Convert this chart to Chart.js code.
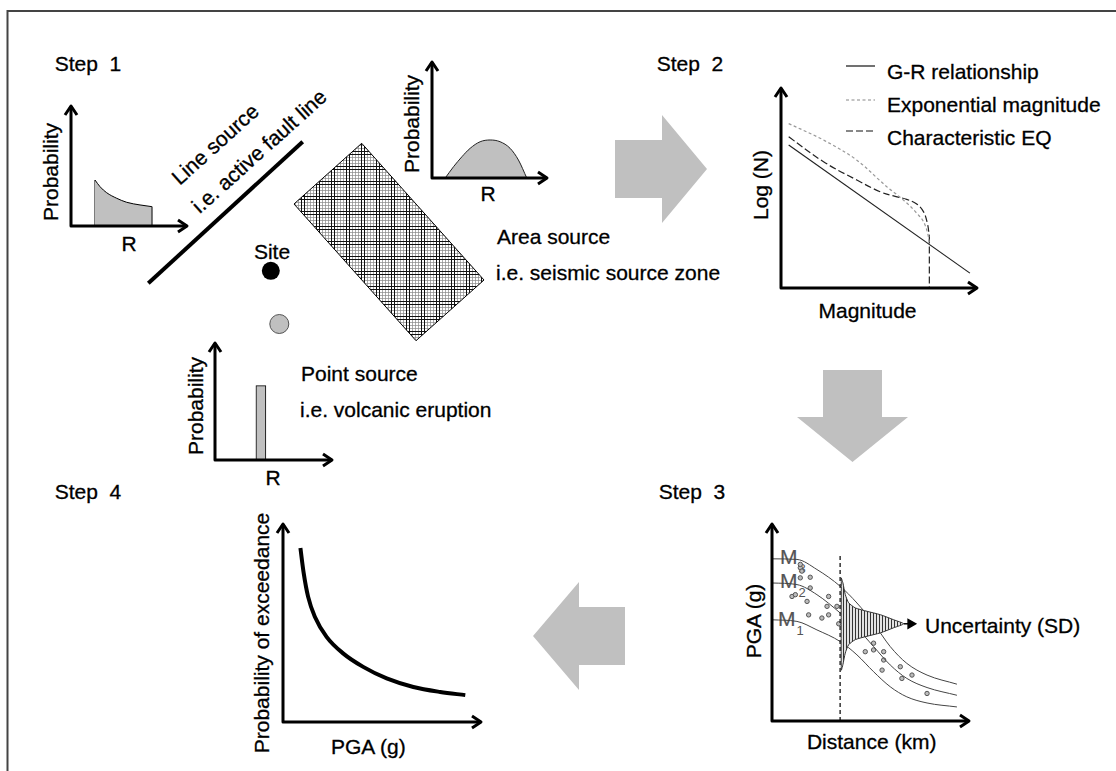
<!DOCTYPE html>
<html>
<head>
<meta charset="utf-8">
<script src="https://cdn.jsdelivr.net/npm/chart.js@4.4.0/dist/chart.umd.min.js"></script>
<style>
html,body{margin:0;padding:0;background:#fff;}
#page{position:relative;width:1116px;height:771px;overflow:hidden;background:#fff;}
#deco{position:absolute;left:0;top:0;}
.box{position:absolute;}
.t{position:absolute;font-family:'Liberation Sans',Arial,sans-serif;font-size:21px;line-height:1;white-space:pre;color:#000;-webkit-text-stroke:0.3px #000;}
.t sub{font-size:13px;vertical-align:0;position:relative;top:9px;left:1px;-webkit-text-stroke:0;}
</style>
</head>
<body>
<div id="page">
<svg id="deco" width="1116" height="771">
  <defs>
    <pattern id="grid" width="15" height="15" patternUnits="userSpaceOnUse">
      <rect width="15" height="15" fill="#fff"/>
      <path d="M0 7.5H15M0 10.5H15M0 13.5H15M7.5 0V15M10.5 0V15M13.5 0V15" stroke="#888" stroke-width="0.7"/>
      <path d="M0 1.5H15M0 4.5H15M1.5 0V15M4.5 0V15" stroke="#111" stroke-width="1"/>
    </pattern>
  </defs>
  <path d="M7.5 771V11H1116" fill="none" stroke="#444" stroke-width="2"/>
  <!-- flow arrows -->
  <polygon points="615,140 662,140 662,115 707,169 662,223 662,198 615,198" fill="#c0c0c0"/>
  <polygon points="823,370 882,370 882,417 908,417 852.5,462 797,417 823,417" fill="#c0c0c0"/>
  <polygon points="625,607 579,607 579,582 533,636 579,690 579,665 625,665" fill="#c0c0c0"/>
  <!-- sources -->
  <line x1="148.3" y1="283.3" x2="302.7" y2="141.7" stroke="#000" stroke-width="4"/>
  <polygon points="361.7,143.3 484,280 416,340.7 294,204" fill="url(#grid)" stroke="#000" stroke-width="1"/>
  <circle cx="270.8" cy="270.8" r="9" fill="#000"/>
  <circle cx="279.3" cy="324" r="9.5" fill="#c0c0c0" stroke="#555" stroke-width="1"/>
  <!-- legend samples -->
  <line x1="846" y1="66" x2="875" y2="66" stroke="#111" stroke-width="1.2"/>
  <line x1="846" y1="100" x2="875" y2="100" stroke="#888" stroke-width="1.2" stroke-dasharray="3 2.5"/>
  <line x1="846" y1="131" x2="875" y2="131" stroke="#111" stroke-width="1.2" stroke-dasharray="7 3"/>
</svg>
</div>
<script>
// ---- data (axis units 0..10 on every small plot) ----
// Step 1, line source: distance pdf
const lineR = [2.05, 2.48, 3.05, 3.91, 4.76, 5.90, 6.90];
const lineP = [3.80, 3.25, 2.75, 2.29, 1.96, 1.74, 1.60];
// Step 1, area source: distance pdf
const areaR = [1.14, 1.86, 2.58, 3.29, 4.15, 5.01, 5.87, 6.73, 7.45, 8.17];
const areaP = [0, 0.97, 1.82, 2.54, 3.10, 3.25, 3.10, 2.54, 1.54, 0];
// Step 1, point source: single distance
const pointR = [3.89];
const pointP = [6.3];

// Step 2, recurrence
const grMag = [0.39, 9.59];
const grLogN = [7.11, 0.74];
const expMag = [0.39, 2.16, 3.85, 5.37, 6.21, 6.89, 7.31, 7.48, 7.53];
const expLogN = [8.18, 7.36, 6.36, 5.04, 4.38, 3.72, 3.14, 2.56, 2.23];
const charMag = [0.39, 2.16, 3.85, 5.03, 5.71, 6.38, 6.89, 7.23, 7.43, 7.53];
const charLogN = [7.52, 6.28, 5.37, 4.79, 4.58, 4.41, 4.18, 3.80, 3.22, 2.56];

// Step 3, attenuation
const distKm = [0, 1.26, 2.27, 3.45, 4.29, 5.13, 5.97, 6.81, 7.83, 9.34];
const pgaM3 = [8.19, 8.16, 7.65, 6.80, 5.96, 4.94, 3.76, 2.91, 2.32, 1.86];
const pgaM2 = [6.97, 6.89, 6.38, 5.45, 4.69, 3.76, 2.83, 2.15, 1.69, 1.30];
const pgaM1 = [5.11, 5.03, 4.60, 4.01, 3.34, 2.49, 1.73, 1.22, 0.91, 0.71];
const obsDist = [1.43, 1.43, 1.93, 1.01, 1.18, 1.77, 1.93, 2.86, 2.78, 1.85, 2.86, 2.52, 3.28, 3.37, 4.21, 4.21, 4.71, 5.13, 5.64, 5.13, 5.64, 5.56, 6.48, 6.56, 7.07, 7.83, 1.43, 1.51];
const obsPga = [7.74, 7.23, 7.26, 6.29, 6.38, 6.04, 6.72, 6.29, 5.79, 5.36, 5.36, 5.20, 5.79, 4.91, 4.94, 4.43, 3.50, 3.59, 3.50, 3.93, 3.08, 2.57, 2.74, 2.15, 2.32, 1.39, 7.91, 7.57];
const siteDist = 3.44;
const siteTop = 8.33;
const sdX = [3.5, 3.58, 3.70, 3.87, 4.21, 4.80, 5.47, 6.15, 6.65, 6.15, 5.47, 4.80, 4.21, 3.87, 3.70, 3.58, 3.5, 3.5];
const sdY = [7.23, 6.98, 6.39, 5.97, 5.71, 5.54, 5.37, 5.11, 4.91, 4.71, 4.45, 4.28, 4.11, 3.85, 3.43, 2.84, 2.57, 7.23];
const sdArrowEnd = 7.0;

// Step 4, hazard curve
const hazPga = [0.875, 1.04, 1.26, 1.60, 2.19, 3.02, 4.03, 5.21, 6.55, 7.90, 9.16];
const hazProb = [8.74, 7.48, 6.30, 5.29, 4.28, 3.45, 2.77, 2.19, 1.76, 1.51, 1.35];

// ---- layout ----
const P = 10;
const boxes = {
  lineSrc:  {ox: 71,  oy: 226, tx: 188, ty: 105},
  areaSrc:  {ox: 432, oy: 178, tx: 548, ty: 61},
  pointSrc: {ox: 215, oy: 460, tx: 333, ty: 342},
  gr:       {ox: 781, oy: 288, tx: 978, ty: 87},
  gmpe:     {ox: 772, oy: 721, tx: 970, ty: 523},
  hazard:   {ox: 283, oy: 722, tx: 482, ty: 523}
};

const labels = [
  {t: 'Step  1', x: 88, y: 63},
  {t: 'Step  2', x: 690, y: 63},
  {t: 'Step  3', x: 692, y: 491},
  {t: 'Step  4', x: 88, y: 491},
  {t: 'Probability', x: 50, y: 172, rot: -90},
  {t: 'R', x: 129, y: 242.5},
  {t: 'Line source', x: 215, y: 144, rot: -42},
  {t: 'i.e. active fault line', x: 259, y: 151, rot: -42},
  {t: 'Site', x: 272, y: 251},
  {t: 'Probability', x: 410.5, y: 124, rot: -90},
  {t: 'R', x: 488, y: 193},
  {t: 'Area source', x: 497, y: 236, left: true},
  {t: 'i.e. seismic source zone', x: 496, y: 272, left: true},
  {t: 'Probability', x: 194.5, y: 406, rot: -90},
  {t: 'R', x: 273, y: 477},
  {t: 'Point source', x: 301, y: 372.5, left: true},
  {t: 'i.e. volcanic eruption', x: 300, y: 408.5, left: true},
  {t: 'G-R relationship', x: 887, y: 71, left: true},
  {t: 'Exponential magnitude', x: 887, y: 104, left: true},
  {t: 'Characteristic EQ', x: 887, y: 137, left: true},
  {t: 'Log (N)', x: 759.5, y: 185, rot: -90},
  {t: 'Magnitude', x: 867.5, y: 310},
  {t: 'PGA (g)', x: 752.5, y: 620.5, rot: -90},
  {t: 'Distance (km)', x: 871.7, y: 741},
  {t: 'Uncertainty (SD)', x: 925, y: 625, left: true},
  {t: 'M<sub>3</sub>', x: 780, y: 556, left: true, html: true, color: '#555'},
  {t: 'M<sub>2</sub>', x: 780, y: 580, left: true, html: true, color: '#555'},
  {t: 'M<sub>1</sub>', x: 778, y: 617.5, left: true, html: true, color: '#555'},
  {t: 'Probability of exceedance', x: 260.5, y: 632.5, rot: -90},
  {t: 'PGA (g)', x: 368.3, y: 745.5}
];

const page = document.getElementById('page');

labels.forEach((l) => {
  const d = document.createElement('div');
  d.className = 't';
  if (l.html) d.innerHTML = l.t; else d.textContent = l.t;
  d.style.left = l.x + 'px';
  d.style.top = l.y + 'px';
  if (l.color) { d.style.color = l.color; d.style.webkitTextStroke = '0.2px ' + l.color; }
  const tx = l.left ? 'translate(0,-50%)' : 'translate(-50%,-50%)';
  d.style.transform = tx + (l.rot ? ` rotate(${l.rot}deg)` : '');
  page.appendChild(d);
});

const pts = (xs, ys) => xs.map((x, i) => ({x: x, y: ys[i]}));

// axis lines with open arrow heads at the ends of the chart area
const axisArrows = {
  id: 'axisArrows',
  afterDatasetsDraw(chart) {
    const {ctx, chartArea: a} = chart;
    ctx.save();
    ctx.strokeStyle = '#000';
    ctx.lineWidth = 3;
    ctx.lineJoin = 'round';
    ctx.beginPath();
    ctx.moveTo(a.left, a.top + 1);
    ctx.lineTo(a.left, a.bottom);
    ctx.lineTo(a.right - 1, a.bottom);
    ctx.stroke();
    ctx.beginPath();
    ctx.moveTo(a.left - 6, a.top + 10);
    ctx.lineTo(a.left, a.top + 1);
    ctx.lineTo(a.left + 6, a.top + 10);
    ctx.moveTo(a.right - 10, a.bottom - 6);
    ctx.lineTo(a.right - 1, a.bottom);
    ctx.lineTo(a.right - 10, a.bottom + 6);
    ctx.stroke();
    ctx.restore();
  }
};

const makeChart = (name, type, datasets) => {
  const b = boxes[name];
  const w = b.tx - b.ox + 2 * P;
  const h = b.oy - b.ty + 2 * P;
  const div = document.createElement('div');
  div.className = 'box';
  div.style.left = (b.ox - P) + 'px';
  div.style.top = (b.ty - P) + 'px';
  const cv = document.createElement('canvas');
  cv.width = w; cv.height = h;
  cv.style.width = w + 'px'; cv.style.height = h + 'px';
  div.appendChild(cv);
  page.appendChild(div);
  return new Chart(cv, {
    type: type,
    data: {datasets: datasets},
    options: {
      responsive: false,
      animation: false,
      events: [],
      layout: {padding: P},
      plugins: {legend: {display: false}, tooltip: {enabled: false}},
      elements: {point: {radius: 0}},
      scales: {
        x: {type: 'linear', min: 0, max: 10, display: false, offset: false},
        y: {type: 'linear', min: 0, max: 10, display: false}
      }
    },
    plugins: [axisArrows]
  });
};

const hatch = (() => {
  const c = document.createElement('canvas');
  c.width = 3; c.height = 3;
  const g = c.getContext('2d');
  g.fillStyle = '#e2e2e2'; g.fillRect(0, 0, 3, 3);
  g.fillStyle = '#333'; g.fillRect(0, 0, 1, 3);
  return g.createPattern(c, 'repeat');
})();

// Step 1 line source
const nL = lineR.length - 1;
makeChart('lineSrc', 'line', [
  {data: pts(lineR, lineP), borderColor: '#000', borderWidth: 1, backgroundColor: '#c0c0c0', fill: 'origin', cubicInterpolationMode: 'monotone'},
  {data: [{x: lineR[0], y: 0}, {x: lineR[0], y: lineP[0]}, {x: lineR[nL], y: null}, {x: lineR[nL], y: lineP[nL]}, {x: lineR[nL], y: 0}],
   borderColor: '#000', borderWidth: 1, spanGaps: false, fill: false}
]);

// Step 1 area source
makeChart('areaSrc', 'line', [
  {data: pts(areaR, areaP), borderColor: '#222', borderWidth: 1, backgroundColor: '#c0c0c0', fill: 'origin', cubicInterpolationMode: 'monotone'}
]);

// Step 1 point source
makeChart('pointSrc', 'bar', [
  {data: pts(pointR, pointP), barThickness: 10, backgroundColor: '#c0c0c0', borderColor: '#000', borderWidth: 1}
]);

// Step 2 magnitude recurrence
const nC = charMag.length - 1;
makeChart('gr', 'line', [
  {data: pts(grMag, grLogN), borderColor: '#222', borderWidth: 1.2, fill: false},
  {data: pts(expMag, expLogN), borderColor: '#999', borderWidth: 1.2, borderDash: [3, 2.5], fill: false, cubicInterpolationMode: 'monotone'},
  {data: pts(charMag, charLogN), borderColor: '#222', borderWidth: 1.2, borderDash: [7, 3], fill: false, tension: 0.4},
  {data: [{x: charMag[nC], y: charLogN[nC]}, {x: charMag[nC], y: 0}], borderColor: '#222', borderWidth: 1.2, borderDash: [7, 3], fill: false}
]);

// Step 3 attenuation with scatter and uncertainty
makeChart('gmpe', 'line', [
  {data: pts(sdX, sdY), borderColor: '#333', borderWidth: 1, backgroundColor: hatch, fill: 'shape', tension: 0.2},
  {data: [{x: siteDist, y: 0}, {x: siteDist, y: siteTop}], borderColor: '#111', borderWidth: 1.3, borderDash: [4, 3], fill: false},
  {data: pts(distKm, pgaM3), borderColor: '#444', borderWidth: 1, fill: false, cubicInterpolationMode: 'monotone'},
  {data: pts(distKm, pgaM2), borderColor: '#444', borderWidth: 1, fill: false, cubicInterpolationMode: 'monotone'},
  {data: pts(distKm, pgaM1), borderColor: '#444', borderWidth: 1, fill: false, cubicInterpolationMode: 'monotone'},
  {data: pts(obsDist, obsPga), showLine: false, pointRadius: 2.2, pointBackgroundColor: '#bbb', pointBorderColor: '#555', pointBorderWidth: 1},
  {data: [{x: sdX[8], y: sdY[8]}, {x: sdArrowEnd, y: sdY[8]}], borderColor: '#000', borderWidth: 1.5, fill: false,
   pointRadius: [0, 5], pointStyle: 'triangle', rotation: 90, pointBackgroundColor: '#000', pointBorderColor: '#000'}
]);

// Step 4 hazard curve
makeChart('hazard', 'line', [
  {data: pts(hazPga, hazProb), borderColor: '#000', borderWidth: 4, fill: false, cubicInterpolationMode: 'monotone'}
]);
</script>
</body>
</html>
